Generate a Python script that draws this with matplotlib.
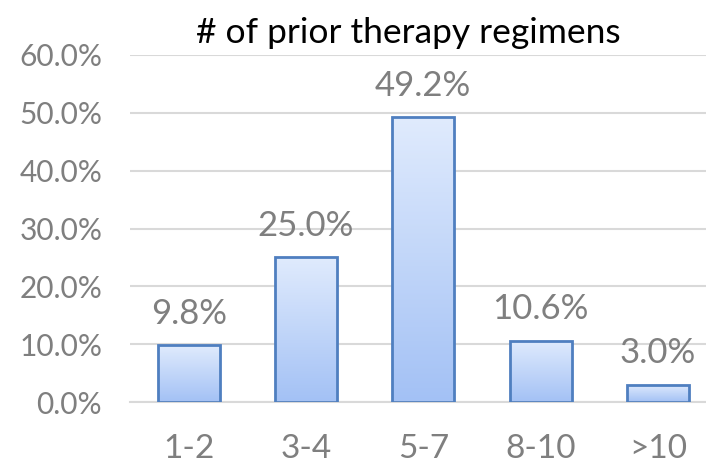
import numpy as np
import matplotlib
matplotlib.use("Agg")
import matplotlib.pyplot as plt
from matplotlib.colors import LinearSegmentedColormap

categories = ['1-2', '3-4', '5-7', '8-10', '>10']
values = [9.8, 25.0, 49.2, 10.6, 3.0]
title = '# of prior therapy regimens'

plt.rcParams['font.family'] = ['Lato', 'DejaVu Sans']

fig = plt.figure(figsize=(7.06, 4.66), dpi=100)
ax = fig.add_axes([130 / 706, 64 / 466, 1 - 130 / 706, (402 - 55) / 466])

grey = '#7f7f7f'
x = np.arange(len(categories))
bars = ax.bar(x, values, width=0.53, color='none', edgecolor='#4f7fc0',
              linewidth=2, zorder=3)

# vertical gradient inside each bar
cmap = LinearSegmentedColormap.from_list('g', ['#a3c1f5', '#e0ebfd'])
grad = np.linspace(0, 1, 256).reshape(-1, 1)
for b in bars:
    x0, y0 = b.get_x(), b.get_y()
    w, h = b.get_width(), b.get_height()
    im = ax.imshow(grad, cmap=cmap, origin='lower', aspect='auto',
                   extent=[x0, x0 + w, y0, y0 + h], zorder=2)
    im.set_clip_path(b)

for xi, v in zip(x, values):
    ax.annotate(f'{v:.1f}%', (xi, v), xytext=(0, 11), textcoords='offset points',
                ha='center', va='bottom', fontsize=25, color=grey)

ax.set_xlim(-0.5, 4.41)
ax.set_ylim(0, 60)
ax.set_yticks(np.arange(0, 61, 10))
ax.set_yticklabels([f'{t:.1f}%' for t in np.arange(0, 61, 10)])
ax.set_xticks(x)
ax.set_xticklabels(categories)
ax.tick_params(axis='y', length=0, pad=20, labelsize=21.5, labelcolor=grey)
ax.tick_params(axis='x', length=0, pad=23, labelsize=24, labelcolor=grey)
ax.grid(axis='y', color='#d9d9d9', linewidth=1.5, zorder=0)
ax.set_axisbelow(True)
for s in ['top', 'right', 'left']:
    ax.spines[s].set_visible(False)
ax.spines['bottom'].set_color('#d9d9d9')
ax.spines['bottom'].set_linewidth(1.5)

fig.text(408 / 706, 1 - 43 / 466, title, ha='center', va='baseline',
         fontsize=25.5, color='black')

fig.savefig('out.png', dpi=100)
